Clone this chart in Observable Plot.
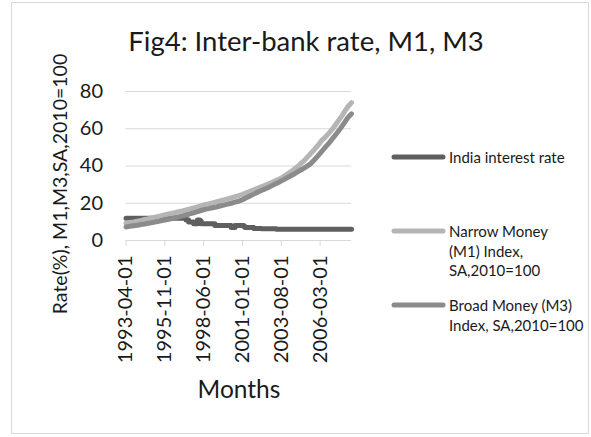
<!DOCTYPE html>
<html><head><meta charset="utf-8">
<script src="https://cdn.jsdelivr.net/npm/d3@7"></script>
<script src="https://cdn.jsdelivr.net/npm/@observablehq/plot@0.6"></script>
<style>
body{margin:0;background:#fff;}
#wrap{position:relative;width:591px;height:437px;font-family:Lato,"Open Sans",sans-serif;color:#1a1a1a;overflow:hidden;}
#wrap > svg{position:absolute;left:0;top:0;}
#frame{position:absolute;left:11px;top:2px;width:578px;height:432px;border:1px solid #d9d9d9;box-sizing:border-box;}
</style></head>
<body><div id="wrap"><div id="frame"></div></div>
<script>
// ---- data ----
const titleText = "Fig4: Inter-bank rate, M1, M3";
const yLabelText = "Rate(%), M1,M3,SA,2010=100";
const xLabelText = "Months";
const seriesNames = ["India interest rate", "Narrow Money (M1) Index, SA,2010=100", "Broad Money (M3) Index, SA,2010=100"];
const legendLines = [["India interest rate"], ["Narrow Money", "(M1) Index,", "SA,2010=100"], ["Broad Money (M3)", "Index, SA,2010=100"]];
const xTickLabels = ["1993-04-01", "1995-11-01", "1998-06-01", "2001-01-01", "2003-08-01", "2006-03-01"];
const yTicks = [0, 20, 40, 60, 80];

// India interest rate (step changes)
const rateDates = ["1993-04-01","1997-04-01","1997-06-01","1997-10-01","1998-01-01","1998-03-01","1998-04-01","1999-03-01","2000-04-01","2000-07-01","2001-02-01","2001-03-01","2001-10-01","2002-04-01","2003-04-01","2008-04-01"];
const rateValues = [12, 11, 10, 9, 11, 10.5, 9, 8, 7, 8, 7.5, 7, 6.5, 6.25, 6, 6];

// M1 / M3 indices (quarterly readings)
const moneyDates = [
"1993-04-01","1993-07-01","1993-10-01","1994-01-01","1994-04-01","1994-07-01","1994-10-01","1995-01-01","1995-04-01","1995-07-01",
"1995-10-01","1996-01-01","1996-04-01","1996-07-01","1996-10-01","1997-01-01","1997-04-01","1997-07-01","1997-10-01","1998-01-01",
"1998-04-01","1998-07-01","1998-10-01","1999-01-01","1999-04-01","1999-07-01","1999-10-01","2000-01-01","2000-04-01","2000-07-01",
"2000-10-01","2001-01-01","2001-04-01","2001-07-01","2001-10-01","2002-01-01","2002-04-01","2002-07-01","2002-10-01","2003-01-01",
"2003-04-01","2003-07-01","2003-10-01","2004-01-01","2004-04-01","2004-07-01","2004-10-01","2005-01-01","2005-04-01","2005-07-01",
"2005-10-01","2006-01-01","2006-04-01","2006-07-01","2006-10-01","2007-01-01","2007-04-01","2007-07-01","2007-10-01","2008-01-01",
"2008-04-01"];
const m1Values = [
9.3,9.7,10.0,10.4,10.8,11.3,11.7,12.2,12.6,13.1,
13.6,14.1,14.5,15.0,15.5,15.9,16.4,17.0,17.5,18.0,
18.6,19.2,19.7,20.2,20.7,21.2,21.8,22.3,22.9,23.5,
24.1,24.8,25.6,26.4,27.2,28.0,28.8,29.6,30.5,31.4,
32.3,33.2,34.4,35.8,37.2,38.7,40.3,42.2,44.2,46.4,
48.6,50.9,53.6,55.4,57.7,60.0,62.8,65.6,68.7,71.8,
74.0];
const m3Values = [
7.3,7.6,7.9,8.2,8.6,8.9,9.3,9.6,10.0,10.4,
10.9,11.3,11.7,12.2,12.7,13.2,13.7,14.3,14.9,15.5,
16.1,16.7,17.1,17.6,18.0,18.5,19.0,19.5,20.0,20.6,
21.1,21.9,22.9,23.9,24.9,25.9,26.8,27.7,28.6,29.6,
30.6,31.6,32.7,33.8,34.9,36.0,37.2,38.4,39.7,41.0,
43.1,45.3,47.6,50.0,52.3,54.8,57.3,60.0,62.9,65.9,
68.0];

const colors = ["#5f5f5f", "#b5b5b5", "#8b8b8b"];

// ---- build ----
const parse = d3.utcParse("%Y-%m-%d");
const rateData = rateDates.map((d, i) => ({date: parse(d), value: rateValues[i]}));
const m1Data = moneyDates.map((d, i) => ({date: parse(d), value: m1Values[i]}));
const m3Data = moneyDates.map((d, i) => ({date: parse(d), value: m3Values[i]}));
const xTicks = xTickLabels.map(parse);

const textColor = "#1a1a1a";
const chart = Plot.plot({
  width: 591, height: 437,
  marginLeft: 125.5, marginRight: 240, marginTop: 91, marginBottom: 197,
  style: {fontFamily: "Lato, 'Open Sans', sans-serif", fontSize: "20px", color: textColor, background: "transparent"},
  x: {type: "utc", domain: [parse("1993-04-01"), parse("2008-04-01")], label: null},
  y: {domain: [0, 80], label: null},
  marks: [
    Plot.gridY(yTicks.filter(t => t > 0), {stroke: "#d9d9d9", strokeOpacity: 1, strokeWidth: 1}),
    Plot.ruleY([0], {stroke: "#d9d9d9", strokeWidth: 1}),
    Plot.axisY(yTicks, {tickSize: 0, tickPadding: 23, fontSize: 20, fill: textColor, label: null}),
    Plot.axisX(xTicks, {tickSize: 6, tickPadding: 9, tickRotate: -90, stroke: "#d9d9d9", fill: textColor, fontSize: 20,
      tickFormat: d3.utcFormat("%Y-%m-%d"), label: null}),
    Plot.line(rateData, {x: "date", y: "value", curve: "step-after", stroke: colors[0], strokeWidth: 5, strokeLinecap: "round", strokeLinejoin: "round"}),
    Plot.line(m1Data, {x: "date", y: "value", stroke: colors[1], strokeWidth: 5, strokeLinecap: "round", strokeLinejoin: "round"}),
    Plot.line(m3Data, {x: "date", y: "value", stroke: colors[2], strokeWidth: 5, strokeLinecap: "round", strokeLinejoin: "round"})
  ]
});
const wrap = document.getElementById("wrap");
wrap.appendChild(chart);

// overlay: title, axis titles, legend
const ov = d3.select(wrap).append("svg")
  .attr("width", 591).attr("height", 437)
  .style("font-family", "Lato, 'Open Sans', sans-serif").style("fill", textColor);
ov.append("text").attr("x", 306).attr("y", 51).attr("text-anchor", "middle")
  .style("font-size", "27.5px").text(titleText);
ov.append("text").attr("transform", "translate(59,184) rotate(-90)").attr("text-anchor", "middle")
  .attr("dominant-baseline", "central").style("font-size", "19.5px").text(yLabelText);
ov.append("text").attr("x", 239).attr("y", 398).attr("text-anchor", "middle")
  .style("font-size", "24.5px").text(xLabelText);

const legendY = [157, 231, 305];
const lineGap = 19.5;
legendLines.forEach((lines, k) => {
  const y = legendY[k];
  ov.append("line").attr("x1", 394).attr("x2", 443).attr("y1", y).attr("y2", y)
    .attr("stroke", colors[k]).attr("stroke-width", 5).attr("stroke-linecap", "round");
  lines.forEach((t, j) => {
    ov.append("text").attr("x", 449).attr("y", y + j * lineGap).attr("dominant-baseline", "central")
      .style("font-size", "15px").text(t);
  });
});
</script>
</body></html>
